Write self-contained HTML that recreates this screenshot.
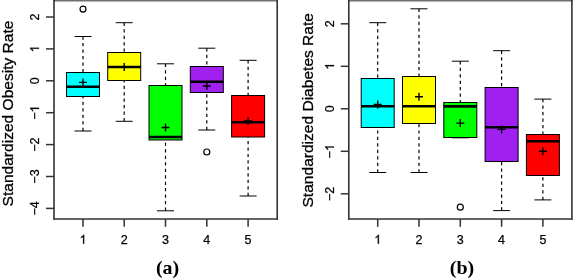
<!DOCTYPE html><html><head><meta charset="utf-8"><style>
html,body{margin:0;padding:0;background:#fff;width:574px;height:278px;overflow:hidden}
svg{display:block;filter:blur(0.35px)}
.ax{font-family:"Liberation Sans",sans-serif;font-size:12.5px;fill:#000;stroke:#000;stroke-width:0.25px}
.lab{font-family:"Liberation Sans",sans-serif;font-size:15.55px;fill:#000;stroke:#000;stroke-width:0.3px}
.tag{font-family:"Liberation Serif",serif;font-weight:bold;font-size:20px;fill:#000}
</style></head><body>
<svg width="574" height="278" viewBox="0 0 574 278">
<line x1="83" y1="36.5" x2="83" y2="72.5" stroke="#000" stroke-width="1.2" stroke-dasharray="3.24 3.24"/>
<line x1="83" y1="131" x2="83" y2="96.5" stroke="#000" stroke-width="1.2" stroke-dasharray="3.24 3.24"/>
<line x1="74.5" y1="36.5" x2="91.5" y2="36.5" stroke="#000" stroke-width="1"/>
<line x1="74.5" y1="131" x2="91.5" y2="131" stroke="#000" stroke-width="1"/>
<rect x="66.5" y="72.5" width="33" height="24" fill="#00FFFF" stroke="#000" stroke-width="1"/>
<line x1="66.5" y1="86.8" x2="99.5" y2="86.8" stroke="#000" stroke-width="2.6"/>
<path d="M79 82.4h8M83 78.4v8" stroke="#000" stroke-width="1.4" fill="none"/>
<circle cx="83" cy="9.05" r="3" fill="none" stroke="#000" stroke-width="1.2"/>
<line x1="124.2" y1="22.7" x2="124.2" y2="52.5" stroke="#000" stroke-width="1.2" stroke-dasharray="3.24 3.24"/>
<line x1="124.2" y1="121.3" x2="124.2" y2="80.5" stroke="#000" stroke-width="1.2" stroke-dasharray="3.24 3.24"/>
<line x1="115.7" y1="22.7" x2="132.7" y2="22.7" stroke="#000" stroke-width="1"/>
<line x1="115.7" y1="121.3" x2="132.7" y2="121.3" stroke="#000" stroke-width="1"/>
<rect x="107.7" y="52.5" width="33" height="28" fill="#FFFF00" stroke="#000" stroke-width="1"/>
<line x1="107.7" y1="67" x2="140.7" y2="67" stroke="#000" stroke-width="2.6"/>
<path d="M120.2 67h8M124.2 63v8" stroke="#000" stroke-width="1.4" fill="none"/>
<line x1="165.5" y1="63.8" x2="165.5" y2="85.5" stroke="#000" stroke-width="1.2" stroke-dasharray="3.24 3.24"/>
<line x1="165.5" y1="210.8" x2="165.5" y2="140" stroke="#000" stroke-width="1.2" stroke-dasharray="3.24 3.24"/>
<line x1="157" y1="63.8" x2="174" y2="63.8" stroke="#000" stroke-width="1"/>
<line x1="157" y1="210.8" x2="174" y2="210.8" stroke="#000" stroke-width="1"/>
<rect x="149" y="85.5" width="33" height="54.5" fill="#00FF00" stroke="#000" stroke-width="1"/>
<line x1="149" y1="137" x2="182" y2="137" stroke="#000" stroke-width="2.6"/>
<path d="M161.5 127.5h8M165.5 123.5v8" stroke="#000" stroke-width="1.4" fill="none"/>
<line x1="206.8" y1="48.2" x2="206.8" y2="66.5" stroke="#000" stroke-width="1.2" stroke-dasharray="3.24 3.24"/>
<line x1="206.8" y1="130" x2="206.8" y2="92.5" stroke="#000" stroke-width="1.2" stroke-dasharray="3.24 3.24"/>
<line x1="198.3" y1="48.2" x2="215.3" y2="48.2" stroke="#000" stroke-width="1"/>
<line x1="198.3" y1="130" x2="215.3" y2="130" stroke="#000" stroke-width="1"/>
<rect x="190.3" y="66.5" width="33" height="26" fill="#A020F0" stroke="#000" stroke-width="1"/>
<line x1="190.3" y1="81.7" x2="223.3" y2="81.7" stroke="#000" stroke-width="2.6"/>
<path d="M202.8 86h8M206.8 82v8" stroke="#000" stroke-width="1.4" fill="none"/>
<circle cx="206.8" cy="152" r="3" fill="none" stroke="#000" stroke-width="1.2"/>
<line x1="248.1" y1="60.3" x2="248.1" y2="95.5" stroke="#000" stroke-width="1.2" stroke-dasharray="3.24 3.24"/>
<line x1="248.1" y1="196" x2="248.1" y2="137" stroke="#000" stroke-width="1.2" stroke-dasharray="3.24 3.24"/>
<line x1="239.6" y1="60.3" x2="256.6" y2="60.3" stroke="#000" stroke-width="1"/>
<line x1="239.6" y1="196" x2="256.6" y2="196" stroke="#000" stroke-width="1"/>
<rect x="231.6" y="95.5" width="33" height="41.5" fill="#FF0000" stroke="#000" stroke-width="1"/>
<line x1="231.6" y1="122.3" x2="264.6" y2="122.3" stroke="#000" stroke-width="2.6"/>
<path d="M244.1 121h8M248.1 117v8" stroke="#000" stroke-width="1.4" fill="none"/>
<line x1="53.2" y1="0.7" x2="278" y2="0.7" stroke="#707070" stroke-width="1.4"/>
<line x1="54" y1="0" x2="54" y2="219.8" stroke="#333333" stroke-width="1.6"/>
<line x1="277.2" y1="0" x2="277.2" y2="219.8" stroke="#333333" stroke-width="1.6"/>
<line x1="53.2" y1="219" x2="278" y2="219" stroke="#333333" stroke-width="1.6"/>
<line x1="83" y1="219" x2="83" y2="226.8" stroke="#333333" stroke-width="1.5"/>
<path d="M763 0H583V1147Q518 1085 412.5 1023Q307 961 223 930V1104Q374 1175 487 1276Q600 1377 647 1472H763Z" stroke="#000" stroke-width="41" transform="translate(79.52 243.7) scale(0.006104 -0.006104)"/>
<line x1="124.2" y1="219" x2="124.2" y2="226.8" stroke="#333333" stroke-width="1.5"/>
<text class="ax" x="120.72" y="243.7">2</text>
<line x1="165.5" y1="219" x2="165.5" y2="226.8" stroke="#333333" stroke-width="1.5"/>
<text class="ax" x="162.02" y="243.7">3</text>
<line x1="206.8" y1="219" x2="206.8" y2="226.8" stroke="#333333" stroke-width="1.5"/>
<text class="ax" x="203.32" y="243.7">4</text>
<line x1="248.1" y1="219" x2="248.1" y2="226.8" stroke="#333333" stroke-width="1.5"/>
<text class="ax" x="244.62" y="243.7">5</text>
<line x1="46" y1="17" x2="54" y2="17" stroke="#333333" stroke-width="1.5"/>
<g transform="rotate(-90 39 17)"><text class="ax" x="35.52" y="17">2</text></g>
<line x1="46" y1="48.9" x2="54" y2="48.9" stroke="#333333" stroke-width="1.5"/>
<g transform="rotate(-90 39 48.9)"><path d="M763 0H583V1147Q518 1085 412.5 1023Q307 961 223 930V1104Q374 1175 487 1276Q600 1377 647 1472H763Z" stroke="#000" stroke-width="41" transform="translate(35.52 48.9) scale(0.006104 -0.006104)"/></g>
<line x1="46" y1="80.8" x2="54" y2="80.8" stroke="#333333" stroke-width="1.5"/>
<g transform="rotate(-90 39 80.8)"><text class="ax" x="35.52" y="80.8">0</text></g>
<line x1="46" y1="112.7" x2="54" y2="112.7" stroke="#333333" stroke-width="1.5"/>
<g transform="rotate(-90 39 112.7)"><text class="ax" x="31.87" y="112.7">−</text><path d="M763 0H583V1147Q518 1085 412.5 1023Q307 961 223 930V1104Q374 1175 487 1276Q600 1377 647 1472H763Z" stroke="#000" stroke-width="41" transform="translate(39.17 112.7) scale(0.006104 -0.006104)"/></g>
<line x1="46" y1="144.6" x2="54" y2="144.6" stroke="#333333" stroke-width="1.5"/>
<g transform="rotate(-90 39 144.6)"><text class="ax" x="31.87" y="144.6">−</text><text class="ax" x="39.17" y="144.6">2</text></g>
<line x1="46" y1="176.5" x2="54" y2="176.5" stroke="#333333" stroke-width="1.5"/>
<g transform="rotate(-90 39 176.5)"><text class="ax" x="31.87" y="176.5">−</text><text class="ax" x="39.17" y="176.5">3</text></g>
<line x1="46" y1="208.4" x2="54" y2="208.4" stroke="#333333" stroke-width="1.5"/>
<g transform="rotate(-90 39 208.4)"><text class="ax" x="31.87" y="208.4">−</text><text class="ax" x="39.17" y="208.4">4</text></g>
<text class="lab" x="13.3" y="206.4" transform="rotate(-90 13.3 206.4)">Standardized Obesity Rate</text>
<text class="tag" text-anchor="middle" transform="translate(167.6 273.5) scale(1 0.9)">(a)</text>
<line x1="377.7" y1="22.7" x2="377.7" y2="78.5" stroke="#000" stroke-width="1.2" stroke-dasharray="3.24 3.24"/>
<line x1="377.7" y1="172.5" x2="377.7" y2="127.5" stroke="#000" stroke-width="1.2" stroke-dasharray="3.24 3.24"/>
<line x1="369.2" y1="22.7" x2="386.2" y2="22.7" stroke="#000" stroke-width="1"/>
<line x1="369.2" y1="172.5" x2="386.2" y2="172.5" stroke="#000" stroke-width="1"/>
<rect x="361.2" y="78.5" width="33" height="49" fill="#00FFFF" stroke="#000" stroke-width="1"/>
<line x1="361.2" y1="106.3" x2="394.2" y2="106.3" stroke="#000" stroke-width="2.6"/>
<path d="M373.7 104.4h8M377.7 100.4v8" stroke="#000" stroke-width="1.4" fill="none"/>
<line x1="419" y1="8.8" x2="419" y2="76.5" stroke="#000" stroke-width="1.2" stroke-dasharray="3.24 3.24"/>
<line x1="419" y1="172.5" x2="419" y2="123.5" stroke="#000" stroke-width="1.2" stroke-dasharray="3.24 3.24"/>
<line x1="410.5" y1="8.8" x2="427.5" y2="8.8" stroke="#000" stroke-width="1"/>
<line x1="410.5" y1="172.5" x2="427.5" y2="172.5" stroke="#000" stroke-width="1"/>
<rect x="402.5" y="76.5" width="33" height="47" fill="#FFFF00" stroke="#000" stroke-width="1"/>
<line x1="402.5" y1="106.3" x2="435.5" y2="106.3" stroke="#000" stroke-width="2.6"/>
<path d="M415 96.8h8M419 92.8v8" stroke="#000" stroke-width="1.4" fill="none"/>
<line x1="460.3" y1="61.2" x2="460.3" y2="102.5" stroke="#000" stroke-width="1.2" stroke-dasharray="3.24 3.24"/>
<line x1="460.3" y1="137.8" x2="460.3" y2="137.5" stroke="#000" stroke-width="1.2" stroke-dasharray="3.24 3.24"/>
<line x1="451.8" y1="61.2" x2="468.8" y2="61.2" stroke="#000" stroke-width="1"/>
<line x1="451.8" y1="137.8" x2="468.8" y2="137.8" stroke="#000" stroke-width="1"/>
<rect x="443.8" y="102.5" width="33" height="35" fill="#00FF00" stroke="#000" stroke-width="1"/>
<line x1="443.8" y1="106.4" x2="476.8" y2="106.4" stroke="#000" stroke-width="2.6"/>
<path d="M456.3 123.1h8M460.3 119.1v8" stroke="#000" stroke-width="1.4" fill="none"/>
<circle cx="460.3" cy="207.2" r="3" fill="none" stroke="#000" stroke-width="1.2"/>
<line x1="501.6" y1="50.7" x2="501.6" y2="87.5" stroke="#000" stroke-width="1.2" stroke-dasharray="3.24 3.24"/>
<line x1="501.6" y1="210.6" x2="501.6" y2="161.5" stroke="#000" stroke-width="1.2" stroke-dasharray="3.24 3.24"/>
<line x1="493.1" y1="50.7" x2="510.1" y2="50.7" stroke="#000" stroke-width="1"/>
<line x1="493.1" y1="210.6" x2="510.1" y2="210.6" stroke="#000" stroke-width="1"/>
<rect x="485.1" y="87.5" width="33" height="74" fill="#A020F0" stroke="#000" stroke-width="1"/>
<line x1="485.1" y1="127.2" x2="518.1" y2="127.2" stroke="#000" stroke-width="2.6"/>
<path d="M497.6 129.4h8M501.6 125.4v8" stroke="#000" stroke-width="1.4" fill="none"/>
<line x1="542.9" y1="99.1" x2="542.9" y2="134.5" stroke="#000" stroke-width="1.2" stroke-dasharray="3.24 3.24"/>
<line x1="542.9" y1="199.9" x2="542.9" y2="175.5" stroke="#000" stroke-width="1.2" stroke-dasharray="3.24 3.24"/>
<line x1="534.4" y1="99.1" x2="551.4" y2="99.1" stroke="#000" stroke-width="1"/>
<line x1="534.4" y1="199.9" x2="551.4" y2="199.9" stroke="#000" stroke-width="1"/>
<rect x="526.4" y="134.5" width="33" height="41" fill="#FF0000" stroke="#000" stroke-width="1"/>
<line x1="526.4" y1="141.3" x2="559.4" y2="141.3" stroke="#000" stroke-width="2.6"/>
<path d="M538.9 151.3h8M542.9 147.3v8" stroke="#000" stroke-width="1.4" fill="none"/>
<line x1="348" y1="0.7" x2="572.7" y2="0.7" stroke="#707070" stroke-width="1.4"/>
<line x1="348.8" y1="0" x2="348.8" y2="219.8" stroke="#333333" stroke-width="1.6"/>
<line x1="571.9" y1="0" x2="571.9" y2="219.8" stroke="#333333" stroke-width="1.6"/>
<line x1="348" y1="219" x2="572.7" y2="219" stroke="#333333" stroke-width="1.6"/>
<line x1="377.7" y1="219" x2="377.7" y2="226.8" stroke="#333333" stroke-width="1.5"/>
<path d="M763 0H583V1147Q518 1085 412.5 1023Q307 961 223 930V1104Q374 1175 487 1276Q600 1377 647 1472H763Z" stroke="#000" stroke-width="41" transform="translate(374.22 243.7) scale(0.006104 -0.006104)"/>
<line x1="419" y1="219" x2="419" y2="226.8" stroke="#333333" stroke-width="1.5"/>
<text class="ax" x="415.52" y="243.7">2</text>
<line x1="460.3" y1="219" x2="460.3" y2="226.8" stroke="#333333" stroke-width="1.5"/>
<text class="ax" x="456.82" y="243.7">3</text>
<line x1="501.6" y1="219" x2="501.6" y2="226.8" stroke="#333333" stroke-width="1.5"/>
<text class="ax" x="498.12" y="243.7">4</text>
<line x1="542.9" y1="219" x2="542.9" y2="226.8" stroke="#333333" stroke-width="1.5"/>
<text class="ax" x="539.42" y="243.7">5</text>
<line x1="340.8" y1="23.8" x2="348.8" y2="23.8" stroke="#333333" stroke-width="1.5"/>
<g transform="rotate(-90 334 23.8)"><text class="ax" x="330.52" y="23.8">2</text></g>
<line x1="340.8" y1="66.3" x2="348.8" y2="66.3" stroke="#333333" stroke-width="1.5"/>
<g transform="rotate(-90 334 66.3)"><path d="M763 0H583V1147Q518 1085 412.5 1023Q307 961 223 930V1104Q374 1175 487 1276Q600 1377 647 1472H763Z" stroke="#000" stroke-width="41" transform="translate(330.52 66.3) scale(0.006104 -0.006104)"/></g>
<line x1="340.8" y1="108.8" x2="348.8" y2="108.8" stroke="#333333" stroke-width="1.5"/>
<g transform="rotate(-90 334 108.8)"><text class="ax" x="330.52" y="108.8">0</text></g>
<line x1="340.8" y1="151.3" x2="348.8" y2="151.3" stroke="#333333" stroke-width="1.5"/>
<g transform="rotate(-90 334 151.3)"><text class="ax" x="326.87" y="151.3">−</text><path d="M763 0H583V1147Q518 1085 412.5 1023Q307 961 223 930V1104Q374 1175 487 1276Q600 1377 647 1472H763Z" stroke="#000" stroke-width="41" transform="translate(334.17 151.3) scale(0.006104 -0.006104)"/></g>
<line x1="340.8" y1="193.8" x2="348.8" y2="193.8" stroke="#333333" stroke-width="1.5"/>
<g transform="rotate(-90 334 193.8)"><text class="ax" x="326.87" y="193.8">−</text><text class="ax" x="334.17" y="193.8">2</text></g>
<text class="lab" x="312.8" y="207.5" transform="rotate(-90 312.8 207.5)">Standardized Diabetes Rate</text>
<text class="tag" text-anchor="middle" transform="translate(462 273.5) scale(1 0.9)">(b)</text>
</svg></body></html>
